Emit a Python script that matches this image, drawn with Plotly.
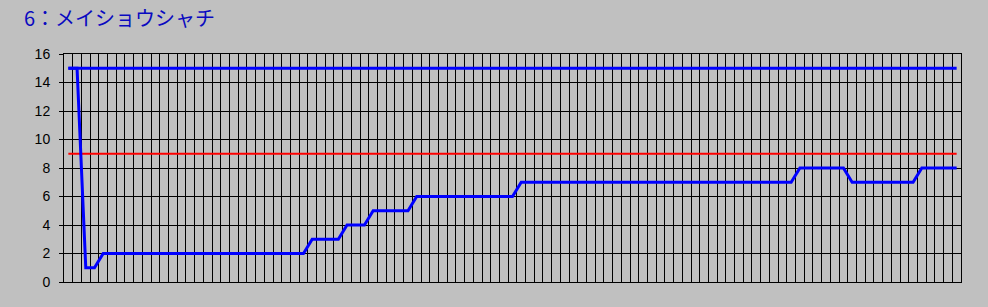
import plotly.graph_objects as go

title_text = "6：メイショウシャチ"

# time steps (categories)
steps = list(range(103))

# constant line at 15
field_size = [
    15, 15, 15, 15, 15, 15, 15, 15, 15, 15,
    15, 15, 15, 15, 15, 15, 15, 15, 15, 15,
    15, 15, 15, 15, 15, 15, 15, 15, 15, 15,
    15, 15, 15, 15, 15, 15, 15, 15, 15, 15,
    15, 15, 15, 15, 15, 15, 15, 15, 15, 15,
    15, 15, 15, 15, 15, 15, 15, 15, 15, 15,
    15, 15, 15, 15, 15, 15, 15, 15, 15, 15,
    15, 15, 15, 15, 15, 15, 15, 15, 15, 15,
    15, 15, 15, 15, 15, 15, 15, 15, 15, 15,
    15, 15, 15, 15, 15, 15, 15, 15, 15, 15,
    15, 15, 15,
]

# popularity rank
rank = [
    15, 15, 1, 1, 2, 2, 2, 2, 2, 2,
    2, 2, 2, 2, 2, 2, 2, 2, 2, 2,
    2, 2, 2, 2, 2, 2, 2, 2, 3, 3,
    3, 3, 4, 4, 4, 5, 5, 5, 5, 5,
    6, 6, 6, 6, 6, 6, 6, 6, 6, 6,
    6, 6, 7, 7, 7, 7, 7, 7, 7, 7,
    7, 7, 7, 7, 7, 7, 7, 7, 7, 7,
    7, 7, 7, 7, 7, 7, 7, 7, 7, 7,
    7, 7, 7, 7, 8, 8, 8, 8, 8, 8,
    7, 7, 7, 7, 7, 7, 7, 7, 8, 8,
    8, 8, 8,
]

# reference level
threshold = [
    9, 9, 9, 9, 9, 9, 9, 9, 9, 9,
    9, 9, 9, 9, 9, 9, 9, 9, 9, 9,
    9, 9, 9, 9, 9, 9, 9, 9, 9, 9,
    9, 9, 9, 9, 9, 9, 9, 9, 9, 9,
    9, 9, 9, 9, 9, 9, 9, 9, 9, 9,
    9, 9, 9, 9, 9, 9, 9, 9, 9, 9,
    9, 9, 9, 9, 9, 9, 9, 9, 9, 9,
    9, 9, 9, 9, 9, 9, 9, 9, 9, 9,
    9, 9, 9, 9, 9, 9, 9, 9, 9, 9,
    9, 9, 9, 9, 9, 9, 9, 9, 9, 9,
    9, 9, 9,
]

y_ticks = [0, 2, 4, 6, 8, 10, 12, 14, 16]

W, H = 988, 307
ML, MR, MT, MB = 64, 27, 54, 25
PW, PH = W - ML - MR, H - MT - MB

fig = go.Figure()
fig.add_trace(go.Scatter(x=steps, y=threshold, mode="lines",
                         line=dict(color="#FF0000", width=2), hoverinfo="skip"))
fig.add_trace(go.Scatter(x=steps, y=field_size, mode="lines",
                         line=dict(color="#0000FF", width=3)))
fig.add_trace(go.Scatter(x=steps, y=rank, mode="lines",
                         line=dict(color="#0000FF", width=3)))

fig.update_layout(
    width=W, height=H,
    margin=dict(l=ML, r=MR, t=MT, b=MB),
    paper_bgcolor="#C0C0C0",
    plot_bgcolor="#C0C0C0",
    showlegend=False,
    font=dict(family="Liberation Sans, Arial, sans-serif", size=13, color="black"),
)
fig.add_annotation(
    text=title_text, showarrow=False,
    xref="paper", yref="paper",
    x=(22 - ML) / PW, y=1 + (MT - 17) / PH,
    xanchor="left", yanchor="middle",
    font=dict(family="Noto Sans CJK JP", size=20, color="#0A0AC0"),
)

fig.update_xaxes(
    range=[-0.5, len(steps) - 0.5],
    tick0=0.5, dtick=1,
    showgrid=True, gridcolor="black", gridwidth=1,
    showticklabels=False, ticks="",
    showline=True, linecolor="black", linewidth=1, mirror=True,
    zeroline=False,
)
fig.update_yaxes(
    range=[0, 16],
    tickvals=y_ticks,
    showgrid=True, gridcolor="black", gridwidth=1,
    ticks="outside", ticklen=4, tickcolor="black", tickwidth=1,
    ticklabelstandoff=6,
    tickfont=dict(size=14),
    showline=True, linecolor="black", linewidth=1, mirror=True,
    zeroline=False,
)

fig.write_html("out.html")
